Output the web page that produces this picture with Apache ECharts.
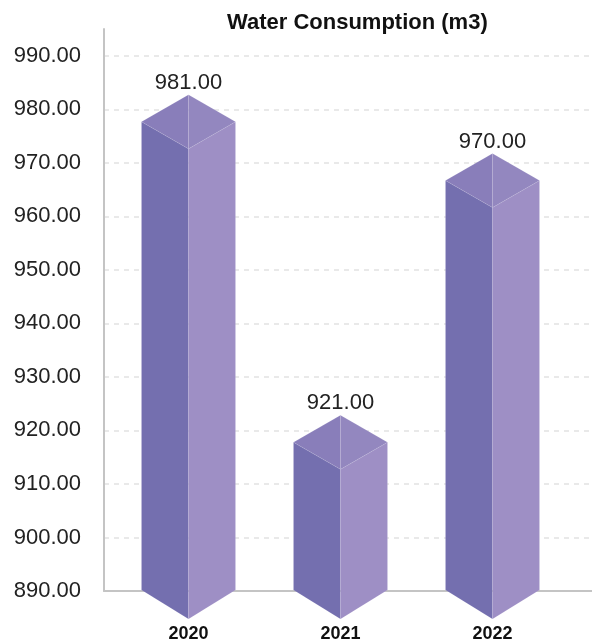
<!DOCTYPE html>
<html>
<head>
<meta charset="utf-8">
<script src="https://cdn.jsdelivr.net/npm/echarts@6/dist/echarts.min.js"></script>
<style>
  html, body { margin: 0; padding: 0; background: #ffffff; }
  #chart { width: 592px; height: 643px; }
</style>
</head>
<body>
<div id="chart"></div>
<script>
// Yearly water consumption, drawn as prism-shaped bars
const years = ['2020', '2021', '2022'];
const consumption = [981, 921, 970];
const yMin = 890;
const yMax = 995;
const yStep = 10;

const FONT = '"Liberation Sans", Arial, Helvetica, sans-serif';

const chart = echarts.init(document.getElementById('chart'));

// Prism geometry (pixels)
const HALF_W = 47;   // half width of the prism
const CAP_H = 27;    // half height of the top diamond
const FOOT_H = 29;   // depth of the pointed foot under the axis
const CAP_LIFT = 9;  // back corner of the cap sits slightly above the value

function renderPrism(params, api) {
  const idx = api.value(0);
  const v = api.value(1);
  const top = api.coord([idx, v]);
  const base = api.coord([idx, yMin]);
  const cx = top[0];
  const ty = top[1] - CAP_LIFT;
  const sy = ty + CAP_H;
  const fy = sy + CAP_H;
  const by = base[1];
  const bfy = by + FOOT_H;
  const edge = { stroke: 'rgba(255,255,255,0.15)', lineWidth: 0.5 };
  return {
    type: 'group',
    children: [
      {
        type: 'polygon',
        shape: { points: [[cx - HALF_W, sy], [cx, fy], [cx, bfy], [cx - HALF_W, by]] },
        style: Object.assign({ fill: '#746faf' }, edge)
      },
      {
        type: 'polygon',
        shape: { points: [[cx, fy], [cx + HALF_W, sy], [cx + HALF_W, by], [cx, bfy]] },
        style: Object.assign({ fill: '#9e8fc5' }, edge)
      },
      {
        type: 'polygon',
        shape: { points: [[cx, ty], [cx - HALF_W, sy], [cx, fy]] },
        style: Object.assign({ fill: '#897eba' }, edge)
      },
      {
        type: 'polygon',
        shape: { points: [[cx, ty], [cx + HALF_W, sy], [cx, fy]] },
        style: Object.assign({ fill: '#9387bf' }, edge)
      },
      {
        type: 'text',
        style: {
          text: v.toFixed(2),
          x: cx,
          y: ty - 12,
          align: 'center',
          verticalAlign: 'middle',
          fill: '#222222',
          font: '22px ' + FONT
        }
      }
    ]
  };
}

chart.setOption({
  animation: false,
  backgroundColor: '#ffffff',
  title: {
    text: 'Water Consumption (m3)',
    left: 227,
    top: 12,
    padding: 0,
    textStyle: { fontFamily: FONT, fontWeight: 'bold', fontSize: 22, color: '#111111' }
  },
  grid: [
    // frame: value axis, gridlines and baseline
    { left: 104, right: 0, top: 29, bottom: 52 },
    // bars and year labels
    { left: 112.5, right: 23.5, top: 29, bottom: 52 }
  ],
  xAxis: [
    {
      type: 'category',
      gridIndex: 0,
      data: years,
      axisLine: { show: true, lineStyle: { color: '#c4c4c4', width: 2 } },
      axisTick: { show: false },
      axisLabel: { show: false }
    },
    {
      type: 'category',
      gridIndex: 1,
      data: years,
      axisLine: { show: false },
      axisTick: { show: false },
      axisLabel: {
        margin: 35,
        fontFamily: FONT,
        fontWeight: 'bold',
        fontSize: 18,
        color: '#111111'
      }
    }
  ],
  yAxis: [
    {
      type: 'value',
      gridIndex: 0,
      min: yMin,
      max: yMax,
      interval: yStep,
      axisLine: { show: true, lineStyle: { color: '#c4c4c4', width: 2 } },
      axisTick: { show: false },
      axisLabel: {
        margin: 23,
        showMaxLabel: false,
        fontFamily: FONT,
        fontSize: 22,
        color: '#222222',
        formatter: (val) => val.toFixed(2)
      },
      splitLine: {
        show: true,
        showMaxLine: false,
        showMinLine: false,
        lineStyle: { color: '#e9e9e9', width: 2, type: [5, 5] }
      }
    },
    {
      type: 'value',
      gridIndex: 1,
      min: yMin,
      max: yMax,
      interval: yStep,
      show: false
    }
  ],
  series: [
    {
      type: 'custom',
      xAxisIndex: 1,
      yAxisIndex: 1,
      clip: false,
      renderItem: renderPrism,
      data: years.map((y, i) => [i, consumption[i]]),
      z: 5
    }
  ]
});
</script>
</body>
</html>
